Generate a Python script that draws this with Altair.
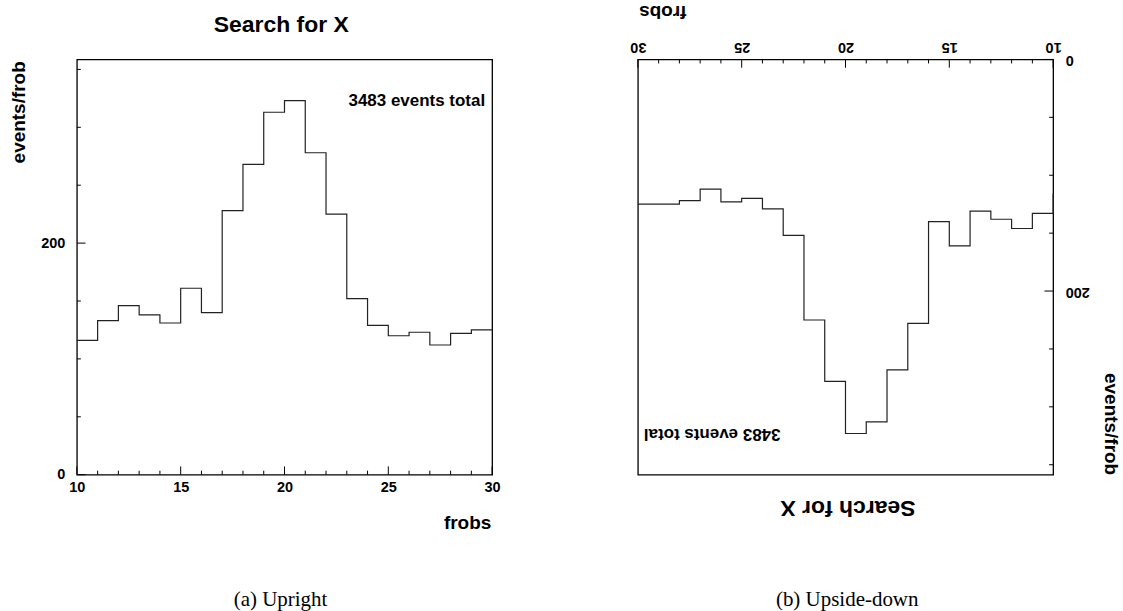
import altair as alt
import pandas as pd

# ---- data ----
bin_lo = list(range(10, 30))
counts = [116, 133, 146, 138, 131, 161, 140, 228, 268, 313,
          323, 278, 225, 152, 129, 120, 123, 112, 122, 125]
x_tick_values = list(range(10, 31))
x_label_values = [10, 15, 20, 25, 30]
y_tick_values = [0, 50, 100, 150, 200, 250, 300, 350]
y_label_values = [0, 200]
title_text = "Search for X"
x_title = "frobs"
y_title = "events/frob"
note_text = "3483 events total"
captions = ["(a) Upright", "(b) Upside-down"]

W, H = 416, 416
YMAX = 358.6
SANS = "Liberation Sans"
SERIF = "Liberation Serif"

step_df = pd.DataFrame({"frobs": bin_lo + [bin_lo[-1] + 1],
                        "events": counts + [counts[-1]]})
xt_df = pd.DataFrame({"frobs": x_tick_values,
                      "major": [v in x_label_values for v in x_tick_values]})
yt_df = pd.DataFrame({"events": y_tick_values,
                      "major": [v in y_label_values for v in y_tick_values]})


def text_layer(txt, x, y, size, angle=0, align="center", font=SANS, weight="bold"):
    kw = dict(align=align, baseline="alphabetic", font=font, fontSize=size,
              fontWeight=weight, color="black")
    if angle:
        kw["angle"] = angle
    return alt.Chart(pd.DataFrame({"t": [txt]})).mark_text(**kw).encode(
        text="t:N", x=alt.value(x), y=alt.value(y))


def panel(flipped):
    xs = alt.Scale(domain=[10, 30], nice=False, zero=False, reverse=flipped)
    ys = alt.Scale(domain=[0, YMAX], nice=False, zero=False, reverse=flipped)
    common = dict(domain=False, ticks=False, tickSize=0, grid=False,
                  labelFont=SANS, labelFontSize=14.5, labelFontWeight="bold",
                  labelColor="black", titleFont=SANS, titleFontSize=19,
                  titleFontWeight="bold", titleColor="black", labelFlush=False,
                  labelOverlap=False, titleBaseline="alphabetic")
    if not flipped:
        xa = alt.Axis(orient="bottom", values=x_label_values, title=x_title,
                      labelPadding=17, labelBaseline="alphabetic", labelAlign="center",
                      titleAlign="right", titleX=414.7, titleY=54.3, **common)
        ya = alt.Axis(orient="left", values=y_label_values, title=y_title,
                      labelPadding=12, labelBaseline="middle", labelAlign="right",
                      titleAngle=270, titleAlign="right", titleX=-52.7, titleY=1.3,
                      **common)
    else:
        xa = alt.Axis(orient="top", values=x_label_values, title=x_title,
                      labelPadding=17, labelBaseline="alphabetic", labelAlign="center",
                      labelAngle=180, titleAngle=180, titleAlign="right",
                      titleX=0.8, titleY=-54, **common)
        ya = alt.Axis(orient="right", values=y_label_values, title=y_title,
                      labelPadding=12, labelBaseline="middle", labelAlign="right",
                      labelAngle=180, titleAngle=90, titleAlign="right",
                      titleX=51, titleY=416, **common)

    line = alt.Chart(step_df).mark_line(
        interpolate="step-after", color="#222222", strokeWidth=1.2
    ).encode(x=alt.X("frobs:Q", scale=xs, axis=xa),
             y=alt.Y("events:Q", scale=ys, axis=ya))

    layers = [line]
    for is_major, ln_x, ln_y in [(True, 8.3, 8.7), (False, 4.0, 4.0)]:
        flt = "datum.major" if is_major else "!datum.major"
        if not flipped:
            xy0, xy1 = H, H - ln_x
            yx0, yx1 = 0, ln_y
        else:
            xy0, xy1 = 0, ln_x
            yx0, yx1 = W, W - ln_y
        layers.append(alt.Chart(xt_df).transform_filter(flt).mark_rule(
            color="black", strokeWidth=1).encode(
            x=alt.X("frobs:Q", scale=xs, axis=xa),
            y=alt.value(xy0), y2=alt.value(xy1)))
        layers.append(alt.Chart(yt_df).transform_filter(flt).mark_rule(
            color="black", strokeWidth=1).encode(
            y=alt.Y("events:Q", scale=ys, axis=ya),
            x=alt.value(yx0), x2=alt.value(yx1)))

    if not flipped:
        layers.append(text_layer(title_text, 204.7, -27.7, 23))
        layers.append(text_layer(note_text, 409, 47, 17, align="right"))
        layers.append(text_layer(captions[0], 204, 547.5, 21, font=SERIF, weight="normal"))
        # invisible layout helper fixing the page bounds
        layers.insert(0, alt.Chart(pd.DataFrame({"a": [0]})).mark_rect(opacity=0).encode(
            x=alt.value(-76), x2=alt.value(1047), y=alt.value(-57), y2=alt.value(554)))
    else:
        layers.append(text_layer(title_text, 210.5, 442.5, 23, angle=180))
        layers.append(text_layer(note_text, 6, 370, 17, angle=180, align="right"))
        layers.append(text_layer(captions[1], 209.7, 547.5, 21, font=SERIF, weight="normal"))

    return alt.layer(*layers).properties(width=W, height=H)


chart = alt.hconcat(panel(False), panel(True), spacing=146, bounds="flush",
                    padding=0).configure(background="white").configure_view(
    stroke="black", strokeWidth=1.3)

chart.save("out.html", embed_options={"renderer": "svg", "actions": False})
